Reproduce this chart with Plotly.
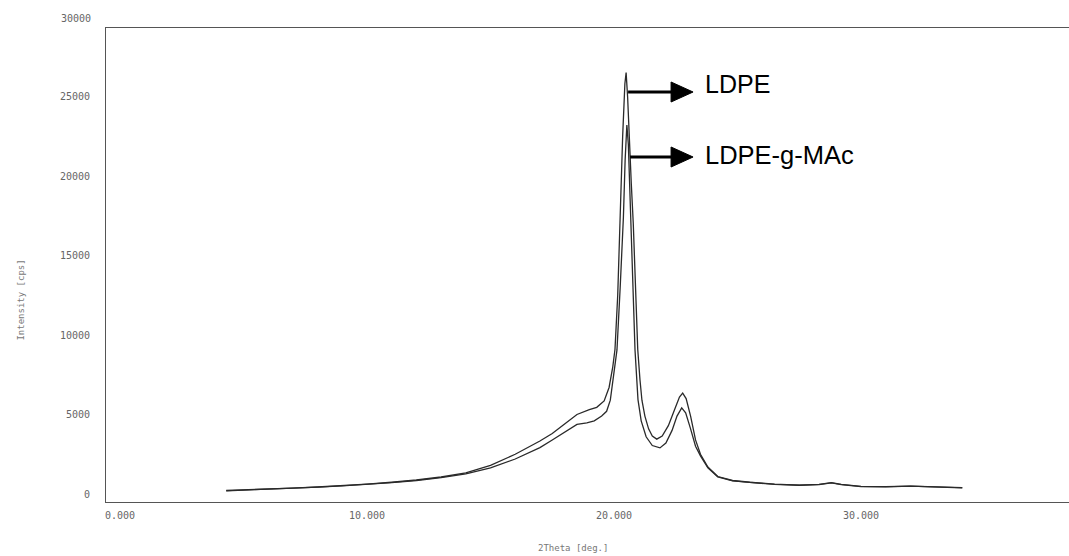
import plotly.graph_objects as go

# --- data ---
ldpe_x = [4.3, 5, 6, 7, 8, 9, 10, 11, 12, 13, 14, 15, 16, 17, 17.5, 18, 18.5, 19, 19.3,
          19.6, 19.8, 19.95, 20.04, 20.15, 20.24, 20.35, 20.44, 20.49, 20.55, 20.65, 20.7,
          20.78, 20.87, 20.96, 21.05, 21.13, 21.25, 21.4, 21.55, 21.73, 21.95, 22.2, 22.45,
          22.65, 22.78, 22.92, 23.1, 23.3, 23.5, 23.8, 24.2, 24.8, 25.5, 26.5, 27.5, 28.3,
          28.8, 29.2, 30, 31, 32, 33, 34.1]
ldpe_y = [220, 250, 300, 370, 440, 520, 620, 740, 880, 1070, 1330, 1800, 2500, 3330, 3800,
          4400, 5000, 5300, 5450, 5850, 6700, 8000, 9100, 12500, 17400, 22500, 25800, 26500,
          25000, 20500, 19500, 17000, 12500, 9100, 7200, 5900, 4900, 4100, 3650, 3450, 3650,
          4300, 5300, 6100, 6350, 6000, 4900, 3400, 2500, 1700, 1100, 850, 740, 620, 560,
          600, 720, 600, 480, 460, 500, 440, 400]

mac_x = [4.3, 5, 6, 7, 8, 9, 10, 11, 12, 13, 14, 15, 16, 17, 17.5, 18, 18.5, 18.9, 19.2,
         19.5, 19.7, 19.85, 19.95, 20.12, 20.25, 20.38, 20.45, 20.52, 20.58, 20.68, 20.77,
         20.85, 20.97, 21.1, 21.3, 21.55, 21.86, 22.1, 22.35, 22.55, 22.74, 22.9, 23.1, 23.3,
         23.5, 23.8, 24.2, 24.8, 25.5, 26.5, 27.5, 28.3, 28.8, 29.2, 30, 31, 32, 33, 34.1]
mac_y = [200, 240, 290, 360, 430, 510, 600, 710, 850, 1030, 1260, 1650, 2200, 2920, 3400,
         3900, 4380, 4480, 4600, 4900, 5200, 5900, 7000, 9060, 13000, 17400, 21000, 23200,
         22000, 17400, 12500, 9060, 5940, 4600, 3600, 3050, 2900, 3200, 4000, 4900, 5420,
         5100, 4100, 3000, 2400, 1650, 1080, 830, 730, 610, 550, 590, 700, 590, 470, 450,
         490, 430, 390]

y_ticks = [0, 5000, 10000, 15000, 20000, 25000]
y_tick_text = ["0", "5000", "10000", "15000", "20000", "25000"]
x_ticks = [0, 10, 20, 30]
x_tick_text = ["0.000", "10.000", "20.000", "30.000"]
labels = ["LDPE", "LDPE-g-MAc"]
label_y = [25283, 21195]
arrow_start_x = [20.57, 20.65]

line_col = "#2a2a2a"
axis_font = dict(family="DejaVu Sans Mono", size=10, color="#666666")

fig = go.Figure()
fig.add_trace(go.Scatter(x=ldpe_x, y=ldpe_y, mode="lines", name=labels[0],
                         line=dict(color=line_col, width=1.3)))
fig.add_trace(go.Scatter(x=mac_x, y=mac_y, mode="lines", name=labels[1],
                         line=dict(color=line_col, width=1.3)))

# arrows + labels
tri_len = 0.89      # deg
tri_half = 629      # cps
for lab, ly, sx in zip(labels, label_y, arrow_start_x):
    tip = 23.2
    base = tip - tri_len
    fig.add_shape(type="line", x0=sx, x1=base + 0.05, y0=ly, y1=ly,
                  line=dict(color="black", width=3))
    fig.add_shape(type="path",
                  path=f"M {base} {ly - tri_half} L {tip} {ly} L {base} {ly + tri_half} Z",
                  fillcolor="black", line=dict(color="black", width=1))

fig.add_annotation(x=23.62, y=label_y[0], text=labels[0], showarrow=False,
                   xanchor="left", yanchor="middle", yshift=8,
                   font=dict(family="Liberation Sans", size=25, color="black"))
fig.add_annotation(x=23.62, y=label_y[1], text=labels[1], showarrow=False,
                   xanchor="left", yanchor="middle", yshift=2,
                   font=dict(family="Liberation Sans", size=25.5, color="black"))

# 30000 label sits above the frame
fig.add_annotation(xref="paper", x=0, yref="paper", y=1.019, text="30000", showarrow=False,
                   xanchor="right", xshift=-13, yanchor="middle", font=axis_font)

# axis titles
fig.add_annotation(xref="paper", yref="paper", x=-0.095, y=0.426, text="Intensity [cps]",
                   textangle=-90, showarrow=False,
                   font=dict(family="DejaVu Sans Mono", size=9, color="#777777"))
fig.add_annotation(xref="paper", yref="paper", x=0.485, y=-0.096, text="2Theta [deg.]",
                   showarrow=False, yanchor="middle",
                   font=dict(family="DejaVu Sans Mono", size=9, color="#777777"))

fig.update_xaxes(range=[-0.567, 38.42], tickvals=x_ticks, ticktext=x_tick_text,
                 showgrid=False, zeroline=False, showline=True, mirror=True,
                 linecolor="#555555", linewidth=1, ticks="", tickfont=axis_font,
                 ticklabelstandoff=4)
fig.update_yaxes(range=[-503, 29308], tickvals=y_ticks, ticktext=y_tick_text,
                 showgrid=False, zeroline=False, showline=True, mirror=False,
                 linecolor="#555555", linewidth=1, ticks="", tickfont=axis_font,
                 ticklabelstandoff=13)

fig.update_layout(width=1069, height=556, showlegend=False,
                  plot_bgcolor="white", paper_bgcolor="white",
                  margin=dict(l=106, r=0, t=28, b=54))

fig.write_html("out.html")
